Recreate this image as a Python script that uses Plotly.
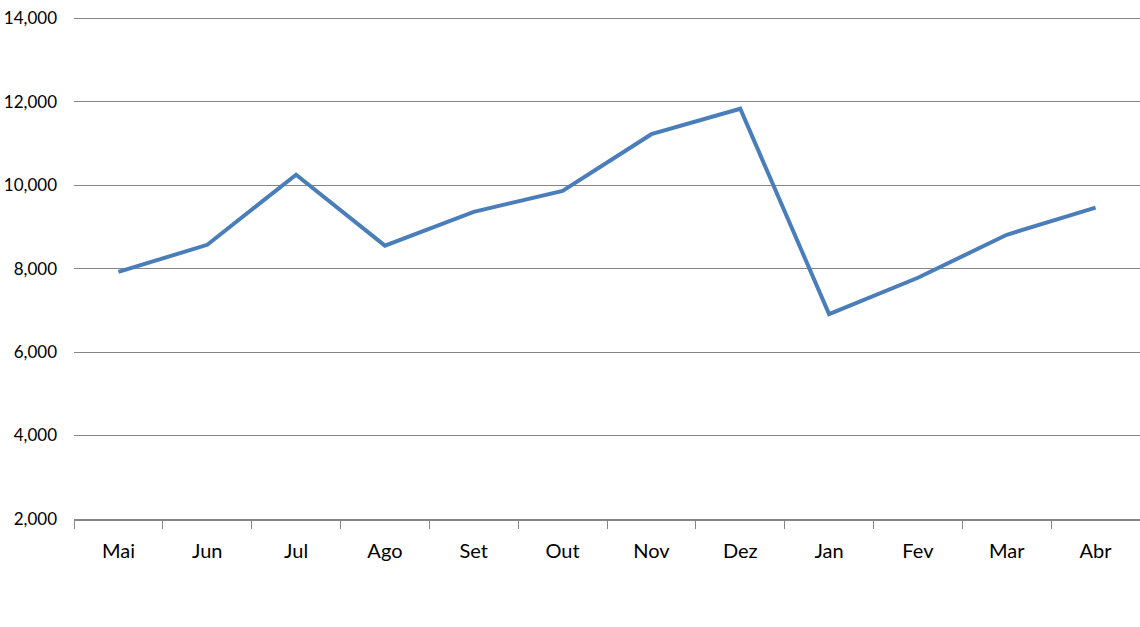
import plotly.graph_objects as go

months = ['Mai', 'Jun', 'Jul', 'Ago', 'Set', 'Out', 'Nov', 'Dez', 'Jan', 'Fev', 'Mar', 'Abr']
values = [7920, 8570, 10250, 8550, 9360, 9860, 11220, 11830, 6910, 7780, 8810, 9460]
y_ticks = [2000, 4000, 6000, 8000, 10000, 12000, 14000]

FONT = 'Lato'
LINE_BLUE = '#4a7ebb'
GRID = '#868686'

fig = go.Figure()

fig.add_trace(go.Scatter(
    x=months,
    y=values,
    mode='lines',
    line=dict(color=LINE_BLUE, width=4),
    showlegend=False,
))

fig.update_layout(
    width=1140,
    height=627,
    plot_bgcolor='white',
    paper_bgcolor='white',
    margin=dict(l=74, r=0, t=14, b=108),
    font=dict(family=FONT, size=17, color='black'),
    xaxis=dict(
        type='category',
        tickson='boundaries',
        ticks='outside',
        ticklen=8,
        tickcolor=GRID,
        showline=True,
        linecolor=GRID,
        linewidth=1.5,
        showgrid=False,
        tickfont=dict(size=20),
        ticklabelstandoff=13,
        range=[-0.5, 11.5],
        automargin=False,
    ),
    yaxis=dict(
        range=[2000, 14100],
        tickvals=y_ticks,
        tickformat=',.0f',
        showgrid=True,
        gridcolor=GRID,
        gridwidth=1,
        zeroline=False,
        showline=False,
        ticks='',
        ticklabelstandoff=16,
        automargin=False,
    ),
)

# drop the default body margin so the figure sits flush in the window
fig.write_html("out.html", config={'displayModeBar': False},
               post_script="document.body.style.margin='0';")
